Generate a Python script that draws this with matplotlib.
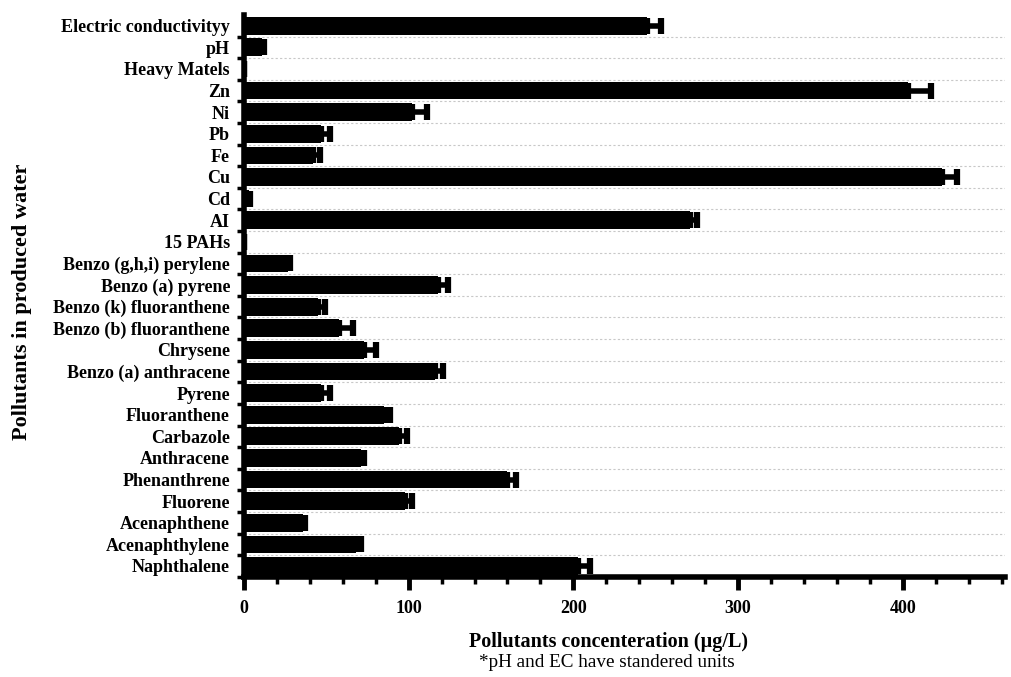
import matplotlib
matplotlib.use("Agg")
import matplotlib.pyplot as plt
import numpy as np
from matplotlib.ticker import MultipleLocator

plt.rcParams['font.family'] = ['Liberation Serif', 'DejaVu Serif']

# Data, top to bottom as in the chart
labels = ['Electric conductivityy', 'pH', 'Heavy Matels', 'Zn', 'Ni', 'Pb', 'Fe',
          'Cu', 'Cd', 'AI', '15 PAHs', 'Benzo (g,h,i) perylene', 'Benzo (a) pyrene',
          'Benzo (k) fluoranthene', 'Benzo (b) fluoranthene', 'Chrysene',
          'Benzo (a) anthracene', 'Pyrene', 'Fluoranthene', 'Carbazole',
          'Anthracene', 'Phenanthrene', 'Fluorene', 'Acenaphthene',
          'Acenaphthylene', 'Naphthalene']
values = [245, 11, 0, 403, 102, 47, 42, 424, 3, 271, 0, 27, 118, 45, 58, 73,
          116, 47, 85, 94, 71, 160, 98, 36, 68, 203]
errors = [8, 1, 0, 14, 9, 5, 4, 9, 1, 4, 0, 1, 6, 4, 8, 7,
          5, 5, 4, 5, 2, 5, 4, 1, 3, 7]

fig = plt.figure(figsize=(10.12, 6.77), dpi=100)
ax = fig.add_axes([0.241, 0.148, 0.752, 0.83])

y = np.arange(len(labels))
ax.barh(y, values, height=0.82, color='black', zorder=3)
ax.errorbar(values, y, xerr=[np.zeros(len(errors)), errors], fmt='none',
            ecolor='black', elinewidth=4, capsize=6, capthick=4.5, zorder=4)

ax.set_ylim(len(labels) - 0.58, -0.5)
ax.set_xlim(0, 462)
ax.set_yticks(y)
ax.set_yticklabels(labels, fontsize=13, fontweight='bold')
ax.tick_params(axis='y', which='major', length=0, pad=10)
ax.set_yticks(y + 0.5, minor=True)
ax.tick_params(axis='y', which='minor', length=5, width=2.5, direction='out')

ax.xaxis.set_major_locator(MultipleLocator(100))
ax.xaxis.set_minor_locator(MultipleLocator(20))
ax.tick_params(axis='x', which='major', length=9, width=3.5, labelsize=13, pad=8)
ax.tick_params(axis='x', which='minor', length=5, width=2.5)
for lab in ax.get_xticklabels():
    lab.set_fontweight('bold')

for yy in (y - 0.5)[1:]:
    ax.axhline(yy, color='#c8c8c8', linestyle=(0, (2, 2)), linewidth=0.8, zorder=1)

ax.spines['top'].set_visible(False)
ax.spines['right'].set_visible(False)
ax.spines['left'].set_linewidth(4)
ax.spines['bottom'].set_linewidth(4)

fig.text(0.022, 0.554, 'Pollutants in produced water', rotation=90, ha='center',
         va='center', fontsize=16, fontweight='bold')
fig.text(0.601, 0.052, 'Pollutants concenteration (µg/L)', ha='center', va='center',
         fontsize=14.5, fontweight='bold')
fig.text(0.600, 0.021, '*pH and EC have standered units', ha='center', va='center',
         fontsize=13.8)

plt.savefig('out.png', dpi=100)
plt.close()
